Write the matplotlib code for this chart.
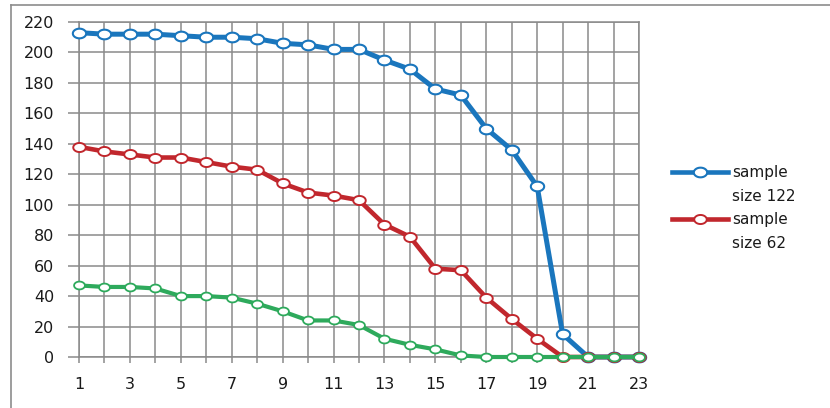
import matplotlib
matplotlib.use("Agg")
import matplotlib.pyplot as plt
import numpy as np
from matplotlib.path import Path
from matplotlib.lines import Line2D

# Data
steps = list(range(1, 24))
size_122 = [213, 212, 212, 212, 211, 210, 210, 209, 206, 205, 202, 202, 195,
            189, 176, 172, 150, 136, 112, 15, 0, 0, 0]
size_62 = [138, 135, 133, 131, 131, 128, 125, 123, 114, 108, 106, 103, 87,
           79, 58, 57, 39, 25, 12, 0, 0, 0, 0]
size_other = [47, 46, 46, 45, 40, 40, 39, 35, 30, 24, 24, 21, 12,
              8, 5, 1, 0, 0, 0, 0, 0, 0, 0]
legend_labels = ["sample\nsize 122", "sample\nsize 62"]
y_ticks = list(range(0, 221, 20))
x_tick_labels = [str(s) if s % 2 == 1 else "" for s in steps]

BLUE = "#1a76bd"
RED = "#c1272d"
GREEN = "#2eaa5c"
GRID = "#8a8a8a"

plt.rcParams["font.family"] = ["DejaVu Sans"]

# wide elliptical marker
t = np.linspace(0, 2 * np.pi, 60)
ellipse = Path(np.column_stack([1.38 * np.cos(t), np.sin(t)]), closed=True)

fig = plt.figure(figsize=(8.30, 4.08), dpi=100)
ax = fig.add_axes([79 / 830, 1 - 357 / 408, (639 - 79) / 830, (357 - 22) / 408])

series = [
    (size_122, BLUE, 3.6, 9.6, 1.5),
    (size_62, RED, 3.3, 9.0, 1.4),
    (size_other, GREEN, 3.0, 7.8, 1.3),
]
for vals, col, lw, ms, mew in series:
    ax.plot(steps, vals, color=col, lw=lw, marker=ellipse, ms=ms,
            mfc="white", mec=col, mew=mew, clip_on=False, zorder=3,
            solid_joinstyle="round")

ax.set_xlim(1, 23)
ax.set_ylim(0, 220)
ax.set_xticks(steps)
ax.set_xticklabels(x_tick_labels)
ax.set_yticks(y_ticks)
ax.grid(True, color=GRID, lw=1.1)
ax.set_axisbelow(True)
for sp in ax.spines.values():
    sp.set_color(GRID)
    sp.set_linewidth(1.1)
ax.tick_params(axis="y", length=8, width=1.1, color=GRID, pad=10,
               labelsize=11.5, labelcolor="#1a1a1a")
ax.tick_params(axis="x", length=4.5, width=1.1, color=GRID, pad=10,
               labelsize=11.5, labelcolor="#1a1a1a")

# legend drawn beside the plot
for (label, col, ms, mew), y in zip(
        [(legend_labels[0], BLUE, 9.6, 1.5), (legend_labels[1], RED, 9.0, 1.4)],
        [172, 219]):
    yf = 1 - y / 408
    fig.add_artist(Line2D([672 / 830, 728 / 830], [yf, yf], color=col, lw=3.3,
                          transform=fig.transFigure))
    fig.add_artist(Line2D([700 / 830], [yf], color=col, marker=ellipse, ms=ms,
                          mfc="white", mec=col, mew=mew,
                          transform=fig.transFigure))
    fig.text(732 / 830, 1 - (y - 7) / 408, label, fontsize=11,
             color="#1a1a1a", va="top", ha="left", linespacing=1.75,
             transform=fig.transFigure)

# outer frame
fig.add_artist(Line2D([11 / 830, 1.0], [1 - 4.5 / 408, 1 - 4.5 / 408],
                      color="#8c8c8c", lw=1.2, transform=fig.transFigure))
fig.add_artist(Line2D([11 / 830, 11 / 830], [0, 1 - 4.5 / 408],
                      color="#8c8c8c", lw=1.2, transform=fig.transFigure))

fig.savefig("out.png", dpi=100)
